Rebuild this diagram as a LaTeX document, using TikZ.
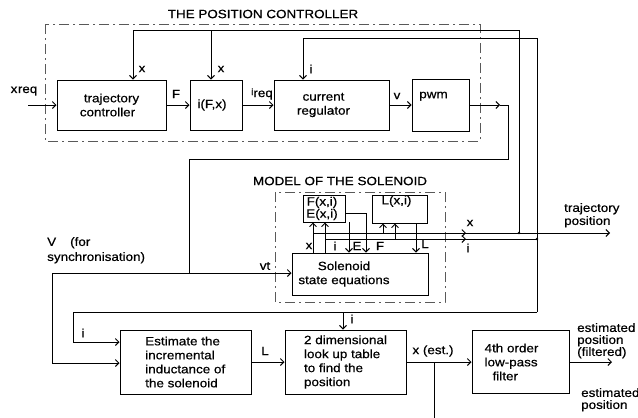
\documentclass[tikz,border=0pt]{standalone}
\usepackage{fontspec}
\setmainfont{Liberation Sans}[FakeStretch=1.12,FakeBold=0.6]
\usetikzlibrary{arrows.meta}
\begin{document}
\begin{tikzpicture}[x=1pt,y=-1pt,
  font=\fontsize{12}{14}\selectfont,
  box/.style={draw, line width=1pt, rectangle, inner sep=0pt, align=center},
  lbl/.style={inner sep=0pt},
  wire/.style={line width=0.9pt},
  arr/.style={wire, -{Straight Barb[length=3.5pt,width=7pt]}},
  dashdot/.style={draw=black!65, line width=0.7pt, dash pattern=on 10pt off 4pt on 2pt off 4pt},
  jdot/.style={fill, circle, inner sep=0pt, minimum size=2.6pt}]
\useasboundingbox (0,0) rectangle (638,418);

% ---------------- boxes ----------------
\node[box, minimum width=109pt, minimum height=50pt] (tc) at (111.5,105) {trajectory\\controller\hspace*{8pt}};
\node[box, minimum width=52pt, minimum height=50pt] (ifx) at (216,105) {i(F,x)\hspace*{8pt}};
\node[box, minimum width=115pt, minimum height=50pt] (cr) at (331.5,105) {current\hspace*{16pt}\\regulator\hspace*{16pt}};
\node[box, minimum width=57pt, minimum height=52pt] (pwm) at (440.5,105) {pwm\hspace*{14pt}\\[6pt]};
\node[box, minimum width=42pt, minimum height=27pt, font=\fontsize{12}{11}\selectfont] (fe) at (324,208.5) {F(x,i)\hspace*{4pt}\\E(x,i)\hspace*{4pt}};
\node[box, minimum width=55pt, minimum height=28pt] (lx) at (399.5,209) {L(x,i)\hspace*{6pt}\\[4pt]};
\node[box, minimum width=136pt, minimum height=42pt] (se) at (360,274) {Solenoid\hspace*{32pt}\\state equations\hspace*{32pt}};
\node[box, minimum width=131pt, minimum height=64pt, align=left] (est) at (185.5,362) {Estimate the\\incremental\\inductance of\\the solenoid\hspace*{8pt}};
\node[box, minimum width=121pt, minimum height=64pt, align=left] (lut) at (345.5,362) {2 dimensional\\look up table\\to find the\\position};
\node[box, minimum width=97pt, minimum height=63pt, align=left] (flt) at (520.5,362) {4th order\hspace*{18pt}\\low-pass\\\hspace*{8pt}filter};

% ---------------- position controller ----------------
\draw[dashdot] (45,24) rectangle (480,141);
\node[lbl] (ttl1) at (263,14) {THE POSITION CONTROLLER};

\coordinate (xin) at (28,105);
\draw[arr] (xin) -- (tc.west);
\node[lbl] (lxreq) at (24,91) {x\kern0.5pt req};
\draw[arr] (tc.east) -- (ifx.west);
\node[lbl] (lF) at (176,94) {F};
\draw[arr] (ifx.east) -- (cr.west);
\node[lbl] (lireq) at (262,94) {\raisebox{2pt}{\fontsize{9}{9}\selectfont i}req};
\draw[arr] (cr.east) -- (pwm.west);
\node[lbl] (lv) at (397,96) {v};

% x feedback
\coordinate (xjn) at (519,233);
\coordinate (xtop) at (519,30);
\coordinate (xl) at (133,30);
\coordinate (xb) at (211,30);
\draw[arr] (xjn) -- (xtop) -- (xl) -- (xl |- tc.north);
\draw[arr] (xb) -- (xb |- ifx.north);
\node[lbl] (lx1) at (142,69) {x};
\node[lbl] (lx2) at (221,69) {x};

% i feedback
\coordinate (itop) at (537,38);
\coordinate (il) at (303,38);
\coordinate (ibot) at (537,312);
\coordinate (ileft) at (73,312);
\coordinate (iest) at (73,342);
\coordinate (ilut) at (343,312);
\draw[arr] (ibot) -- (itop) -- (il) -- (il |- cr.north);
\node[lbl] (li1) at (311,69) {i};
\draw[arr] (ibot) -- (ileft) -- (iest) -- (iest -| est.west);
\node[lbl] (li2) at (83,333) {i};

% pwm output -> vt
\coordinate (pwa) at (500,105);
\coordinate (pwr) at (508,105);
\coordinate (pwd) at (508,159);
\coordinate (pwl) at (189,159);
\coordinate (vtj) at (189,273);
\draw[arr] (pwm.east) -- (pwa);
\draw[wire] (pwa) -- (pwr) -- (pwd) -- (pwl) -- (vtj);

% ---------------- model of the solenoid ----------------
\draw[dashdot] (275,192) rectangle (445,302);
\node[lbl] (ttl2) at (340,181) {MODEL OF THE SOLENOID};

\coordinate (vl) at (52,273);
\coordinate (vd) at (52,363);
\draw[arr] (vl) -- (vl -| se.west);
\draw[arr] (vl) -- (vd) -- (vd -| est.west);
\node[lbl] (lvt) at (265,266) {vt};
\node[lbl, align=left, anchor=north west, font=\fontsize{12}{15}\selectfont] (lsync) at (47,237) {V\hspace{14pt}(for\\synchronisation)};

% x and i outputs of the model
\coordinate (xs) at (313,233);
\coordinate (xch) at (466,233);
\coordinate (xe) at (610,233);
\coordinate (is) at (325,239);
\coordinate (ich) at (466,239);
\coordinate (ie) at (537,239);
\draw[arr] (xs) -- (xe);
\draw[arr] (xs) -- (xch);
\draw[wire] (is) -- (ie);
\draw[arr] (is) -- (ich);
\draw[arr] (xs |- se.north) -- (xs |- fe.south);
\draw[arr] (is |- se.north) -- (is |- fe.south);
\node[lbl] (lxm) at (470,223) {x};
\node[lbl] (lim) at (468,248) {i};
\node[jdot] (d1) at (xjn) {};
\node[jdot] (d2) at (ie) {};

% inputs of L(x,i)
\coordinate (lxi) at (383,233);
\coordinate (lii) at (395,239);
\draw[arr] (lxi) -- (lxi |- lx.south);
\draw[arr] (lii) -- (lii |- lx.south);

% outputs E, F, L
\coordinate (ex) at (349,222);
\coordinate (fo) at (366,213);
\coordinate (lo) at (416,223);
\draw[arr] (ex) -- (ex |- se.north);
\draw[arr] (fe.east |- fo) -- (fo) -- (fo |- se.north);
\draw[arr] (lo) -- (lo |- se.north);
\node[lbl] (lxs) at (309,246) {x};
\node[lbl] (lis) at (335,246) {i};
\node[lbl] (lEs) at (357,246) {E};
\node[lbl] (lFs) at (380,246) {F};
\node[lbl] (lLs) at (425,244) {L};

\node[lbl, align=left, anchor=north west, font=\fontsize{12}{13}\selectfont] (ltraj) at (564,203) {trajectory\\position};

% ---------------- estimation chain ----------------
\draw[arr] (ilut) -- (ilut |- lut.north);
\node[lbl] (li3) at (352,319) {i};
\draw[arr] (est.east) -- (lut.west);
\node[lbl] (lL) at (265,351) {L};
\draw[arr] (lut.east) -- (flt.west);
\node[lbl] (lxest) at (433,351) {x (est.)};
\coordinate (xj) at (434,362);
\coordinate (xd) at (434,418);
\draw[wire] (xj) -- (xd);
\coordinate (fout) at (612,362);
\draw[arr] (flt.east) -- (fout);
\node[lbl, align=left, anchor=north west, font=\fontsize{12}{12}\selectfont] (lest1) at (577,323) {estimated\\position\\(filtered)};
\node[lbl, align=left, anchor=north west, font=\fontsize{12}{12}\selectfont] (lest2) at (581,388) {estimated\\position};
\end{tikzpicture}
\end{document}
